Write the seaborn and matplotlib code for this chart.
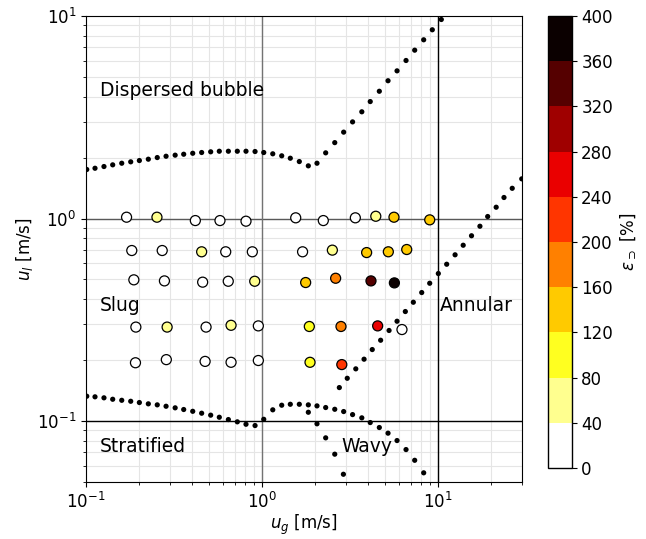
import numpy as np
import matplotlib
matplotlib.use("Agg")
import matplotlib.pyplot as plt
import seaborn as sns
from matplotlib.colors import Normalize
from matplotlib.cm import ScalarMappable

# puntos medidos: velocidad del gas, velocidad del liquido y epsilon [%]
ug = [0.170, 0.253, 0.418, 0.577, 0.811, 1.554, 2.23, 3.39, 4.43, 5.62, 8.97,
      0.182, 0.271, 0.454, 0.622, 0.881, 1.70, 2.51, 3.93, 5.22, 6.64,
      0.187, 0.279, 0.460, 0.643, 0.909, 1.77, 2.62, 4.16, 5.65,
      0.192, 0.289, 0.481, 0.667, 0.953, 1.857, 2.81, 4.54, 6.24,
      0.191, 0.286, 0.475, 0.667, 0.953, 1.874, 2.84]
ul = [1.015, 1.015, 0.977, 0.977, 0.970, 1.008, 0.977, 1.008, 1.026, 1.015, 0.985,
      0.695, 0.695, 0.685, 0.685, 0.685, 0.685, 0.698, 0.679, 0.685, 0.703,
      0.498, 0.492, 0.485, 0.490, 0.490, 0.483, 0.507, 0.492, 0.481,
      0.291, 0.291, 0.291, 0.297, 0.295, 0.293, 0.293, 0.295, 0.283,
      0.194, 0.201, 0.197, 0.195, 0.199, 0.195, 0.190]
eps = [20, 60, 20, 20, 20, 20, 20, 20, 60, 140, 140,
       20, 20, 60, 20, 20, 20, 60, 140, 140, 140,
       20, 20, 20, 20, 60, 140, 180, 340, 380,
       20, 60, 20, 60, 20, 100, 180, 260, 20,
       20, 20, 20, 20, 20, 100, 220]

# frontera burbuja dispersa
bub_x = [0.101, 0.1125, 0.1265, 0.1418, 0.1596, 0.1795, 0.201, 0.226, 0.254, 0.285,
         0.321, 0.359, 0.404, 0.454, 0.511, 0.572, 0.644, 0.724, 0.811, 0.913,
         1.023, 1.151, 1.294, 1.448, 1.629, 1.833, 2.053, 2.30, 2.59, 2.91,
         3.27, 3.69, 4.12, 4.64, 5.20, 5.85, 6.58, 7.37, 8.29, 9.28, 10.44]
bub_y = [1.746, 1.771, 1.806, 1.841, 1.875, 1.905, 1.933, 1.963, 2.00, 2.03,
         2.055, 2.077, 2.10, 2.118, 2.135, 2.149, 2.149, 2.149, 2.149, 2.142,
         2.118, 2.087, 2.04, 1.985, 1.911, 1.82, 1.875, 2.11, 2.37, 2.67,
         3.00, 3.365, 3.78, 4.25, 4.79, 5.36, 6.03, 6.78, 7.63, 8.55, 9.61]

# frontera anular
ann_x = [2.75, 3.05, 3.41, 3.80, 4.23, 4.72, 5.27, 5.85, 6.52, 7.24, 8.08, 8.97,
         10.04, 11.2, 12.5, 13.9, 15.5, 17.3, 19.15, 21.4, 23.7, 26.4, 29.9]
ann_y = [0.1463, 0.1626, 0.181, 0.202, 0.2254, 0.2506, 0.280, 0.311, 0.3473, 0.386,
         0.431, 0.479, 0.535, 0.5946, 0.662, 0.738, 0.822, 0.916, 1.023, 1.137,
         1.27, 1.41, 1.57]

# frontera estratificado
est_x = [0.101, 0.1125, 0.1265, 0.1418, 0.1596, 0.1795, 0.201, 0.226, 0.254, 0.285,
         0.321, 0.359, 0.404, 0.454, 0.511, 0.572, 0.644, 0.724, 0.811, 0.913,
         1.023, 1.151, 1.294, 1.448, 1.629, 1.833, 2.053, 2.30, 2.59, 2.91,
         3.27, 3.69, 4.12, 4.64, 5.20, 5.85, 6.58, 7.37, 8.29]
est_y = [0.1326, 0.1317, 0.1302, 0.1281, 0.1266, 0.1252, 0.1234, 0.1216, 0.1202, 0.1183,
         0.1162, 0.114, 0.1117, 0.1093, 0.1069, 0.1044, 0.1017, 0.0991, 0.0964, 0.095,
         0.102, 0.1136, 0.1197, 0.121, 0.121, 0.1202, 0.1188, 0.1166, 0.1143, 0.1114,
         0.1076, 0.1037, 0.0983, 0.0929, 0.0871, 0.0801, 0.0723, 0.064, 0.0555]

# frontera ondulado
ond_x = [1.833, 2.053, 2.30, 2.59, 2.90]
ond_y = [0.1105, 0.0969, 0.0826, 0.0686, 0.0546]

sns.set_style("ticks", {'text.color': 'k', 'axes.labelcolor': 'k', 'xtick.color': 'k',
                        'ytick.color': 'k', 'axes.edgecolor': 'k'})
plt.rcParams['font.family'] = ['DejaVu Sans']
plt.rcParams['font.size'] = 12
plt.rcParams['xtick.labelsize'] = 12
plt.rcParams['ytick.labelsize'] = 12

fig = plt.figure(figsize=(6.46, 5.39), dpi=100)
ax = fig.add_axes([86/646, 1-482/539, 436/646, 466/539])

ax.set_xscale('log')
ax.set_yscale('log')
ax.set_xlim(0.1, 30)
ax.set_ylim(0.05, 10)
ax.grid(True, which='both', color='#e5e5e5', linewidth=0.8)
ax.set_axisbelow(True)

ax.axhline(1, color='0.35', lw=1, zorder=1)
ax.axvline(1, color='0.45', lw=1, zorder=1)
ax.axhline(0.1, color='k', lw=1, zorder=1)
ax.axvline(10, color='k', lw=1, zorder=1)

for bx, by in [(bub_x, bub_y), (ann_x, ann_y), (est_x, est_y), (ond_x, ond_y)]:
    sns.scatterplot(x=bx, y=by, color='k', s=14, edgecolor='none', ax=ax, zorder=3)

cmap = plt.get_cmap('hot_r', 10)
norm = Normalize(0, 400)
sns.scatterplot(x=ug, y=ul, hue=eps, palette=cmap, hue_norm=norm, s=52,
                edgecolor='k', linewidth=0.9, legend=False, ax=ax, zorder=4)

ax.text(0.12, 4.29, 'Dispersed bubble', va='center', fontsize=13.5)
ax.text(0.12, 0.372, 'Slug', va='center', fontsize=13.5)
ax.text(0.12, 0.0748, 'Stratified', va='center', fontsize=13.5)
ax.text(2.81, 0.0748, 'Wavy', va='center', fontsize=13.5)
ax.text(10.3, 0.372, 'Annular', va='center', fontsize=13.5)

ax.set_xlabel('$u_g$ [m/s]', fontsize=12, labelpad=1)
ax.set_ylabel('$u_l$ [m/s]', fontsize=12, labelpad=1)

cax = fig.add_axes([548/646, 1-468/539, 23.5/646, 452/539])
sm = ScalarMappable(norm=norm, cmap=cmap)
cb = fig.colorbar(sm, cax=cax, ticks=np.arange(0, 401, 40))
cb.set_label(r'$\varepsilon_{\supset}$ [%]', fontsize=12)
cb.outline.set_linewidth(1)

fig.savefig('out.png', dpi=100)
